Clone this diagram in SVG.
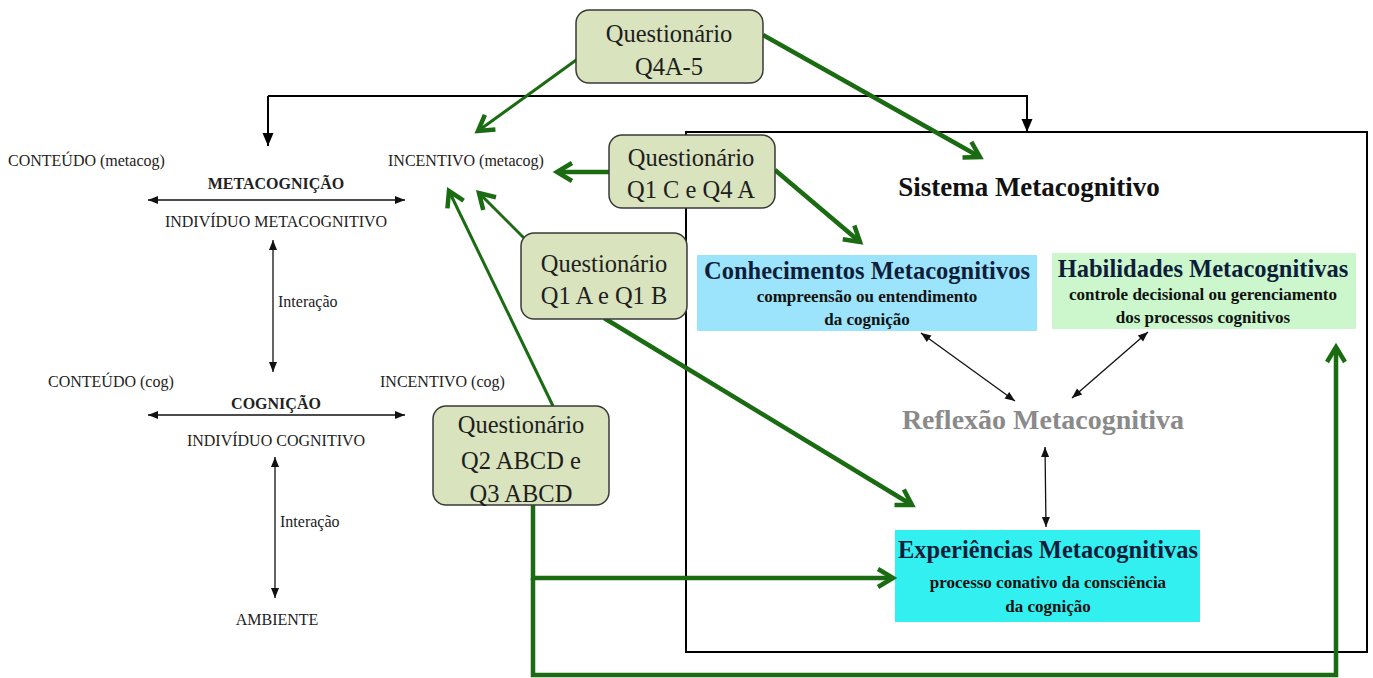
<svg xmlns="http://www.w3.org/2000/svg" width="1373" height="678" viewBox="0 0 1373 678" font-family="Liberation Serif, Times New Roman, serif">
<style>
.q{fill:#d9e3bd;stroke:#3a3a3a;stroke-width:1.5;}
.qt{font-family:'Liberation Serif',serif;font-size:24.5px;fill:#1e1e1e;text-anchor:middle;}
.lt{font-family:'Liberation Serif',serif;font-size:16px;fill:#222;}
.lb{font-family:'Liberation Serif',serif;font-size:16px;fill:#222;font-weight:bold;text-anchor:middle;}
.bt{font-family:'Liberation Serif',serif;font-size:24.5px;font-weight:bold;fill:#0e1e3a;text-anchor:middle;}
.st{font-family:'Liberation Serif',serif;font-size:17px;font-weight:bold;fill:#111;text-anchor:middle;}
.g{stroke:#1a6b12;fill:none;stroke-width:4.5;marker-end:url(#ga);}
.gt{stroke:#1a6b12;fill:none;stroke-width:3;marker-end:url(#ga);}
.kd{stroke:#111;fill:none;stroke-width:1.3;marker-end:url(#ka);marker-start:url(#ka);}
.kb{stroke:#000;fill:none;stroke-width:2;marker-end:url(#kb);}
</style>
<defs>
<marker id="ga" markerUnits="userSpaceOnUse" markerWidth="30" markerHeight="30" viewBox="-20 -15 30 30" refX="0" refY="0" orient="auto">
<path d="M-15,-9 L0,0 L-15,9" fill="none" stroke="#1a6b12" stroke-width="4.5"/>
</marker>
<marker id="ka" markerUnits="userSpaceOnUse" markerWidth="14" markerHeight="12" viewBox="-12 -6 14 12" refX="0" refY="0" orient="auto-start-reverse">
<path d="M0,0 L-10,-4 L-10,4 z" fill="#111"/>
</marker>
<marker id="kb" markerUnits="userSpaceOnUse" markerWidth="16" markerHeight="14" viewBox="-14 -7 16 14" refX="0" refY="0" orient="auto">
<path d="M0,0 L-13,-5.5 L-13,5.5 z" fill="#000"/>
</marker>
</defs>
<rect width="1373" height="678" fill="#fff"/>

<g id="sistema">
<rect x="686" y="132" width="681" height="520" fill="none" stroke="#000" stroke-width="2"/>
<text x="1029" y="196" font-family="Liberation Serif, serif" font-size="27" font-weight="bold" fill="#111" text-anchor="middle">Sistema Metacognitivo</text>
</g>

<g id="left-labels">
<text class="lt" x="8" y="166">CONTEÚDO (metacog)</text>
<text class="lt" x="388" y="166">INCENTIVO (metacog)</text>
<text class="lb" x="276" y="189">METACOGNIÇÃO</text>
<text class="lt" x="276" y="227" text-anchor="middle">INDIVÍDUO METACOGNITIVO</text>
<text class="lt" x="278" y="307" font-size="15">Interação</text>
<text class="lt" x="48" y="387">CONTEÚDO (cog)</text>
<text class="lt" x="380" y="387">INCENTIVO (cog)</text>
<text class="lb" x="276" y="409">COGNIÇÃO</text>
<text class="lt" x="276" y="446" text-anchor="middle">INDIVÍDUO COGNITIVO</text>
<text class="lt" x="280" y="527" font-size="15">Interação</text>
<text class="lt" x="277" y="625" text-anchor="middle">AMBIENTE</text>
</g>

<g id="conhecimentos">
<rect x="697" y="255" width="340" height="76" fill="#9ce4fb"/>
<text class="bt" x="867" y="279">Conhecimentos Metacognitivos</text>
<text class="st" x="867" y="302">compreensão ou entendimento</text>
<text class="st" x="867" y="325">da cognição</text>
</g>

<g id="habilidades">
<rect x="1052" y="253" width="304" height="76" fill="#ccf7cc"/>
<text class="bt" x="1203" y="277">Habilidades Metacognitivas</text>
<text class="st" x="1203" y="300">controle decisional ou gerenciamento</text>
<text class="st" x="1203" y="323">dos processos cognitivos</text>
</g>

<g id="reflexao">
<text x="1043" y="429" font-family="Liberation Serif, serif" font-size="28" font-weight="bold" fill="#8a8a8a" text-anchor="middle">Reflexão Metacognitiva</text>
</g>

<g id="experiencias">
<rect x="895" y="530" width="305" height="92" fill="#33f0f0"/>
<text class="bt" x="1048" y="558">Experiências Metacognitivas</text>
<text class="st" x="1048" y="588">processo conativo da consciência</text>
<text class="st" x="1048" y="612">da cognição</text>
</g>

<g id="connectors">
<path class="kb" d="M268,96 H1027 V132"/>
<path class="kb" d="M268,96 V146"/>
<path class="kd" d="M148,200 H405"/>
<path class="kd" d="M273,240 V372"/>
<path class="kd" d="M148,415 H405"/>
<path class="kd" d="M275,457 V598"/>
<path class="kd" d="M921,333 L1015,401"/>
<path class="kd" d="M1148,332 L1072,398"/>
<path class="kd" d="M1045,447 L1046,527"/>

<path class="gt" d="M590,50 L478,131"/>
<path class="g" d="M763,35 L980,157"/>
<path class="g" d="M609,172 L557,172"/>
<path class="g" d="M775,170 L860,242"/>
<path class="gt" d="M531,245 L479,193"/>
<path class="gt" d="M553,406 L449,191"/>
<path class="g" d="M604,318 L912,505"/>
<path class="g" d="M533,505 V578 H893"/>
<path class="g" d="M533,578 V675 H1336 V347"/>
</g>

<g id="q4a5">
<rect class="q" x="576" y="10" width="187" height="73" rx="13"/>
<text class="qt" x="669" y="42">Questionário</text>
<text class="qt" x="669" y="75">Q4A-5</text>
</g>
<g id="q1c">
<rect class="q" x="609" y="135" width="166" height="73" rx="13"/>
<text class="qt" x="691" y="166">Questionário</text>
<text class="qt" x="691" y="198">Q1 C e Q4 A</text>
</g>
<g id="q1a">
<rect class="q" x="521" y="233" width="166" height="86" rx="13"/>
<text class="qt" x="604" y="272">Questionário</text>
<text class="qt" x="604" y="304">Q1 A e Q1 B</text>
</g>
<g id="q2">
<rect class="q" x="433" y="406" width="176" height="99" rx="13"/>
<text class="qt" x="521" y="433">Questionário</text>
<text class="qt" x="521" y="469">Q2 ABCD e</text>
<text class="qt" x="521" y="502">Q3 ABCD</text>
</g>
</svg>
